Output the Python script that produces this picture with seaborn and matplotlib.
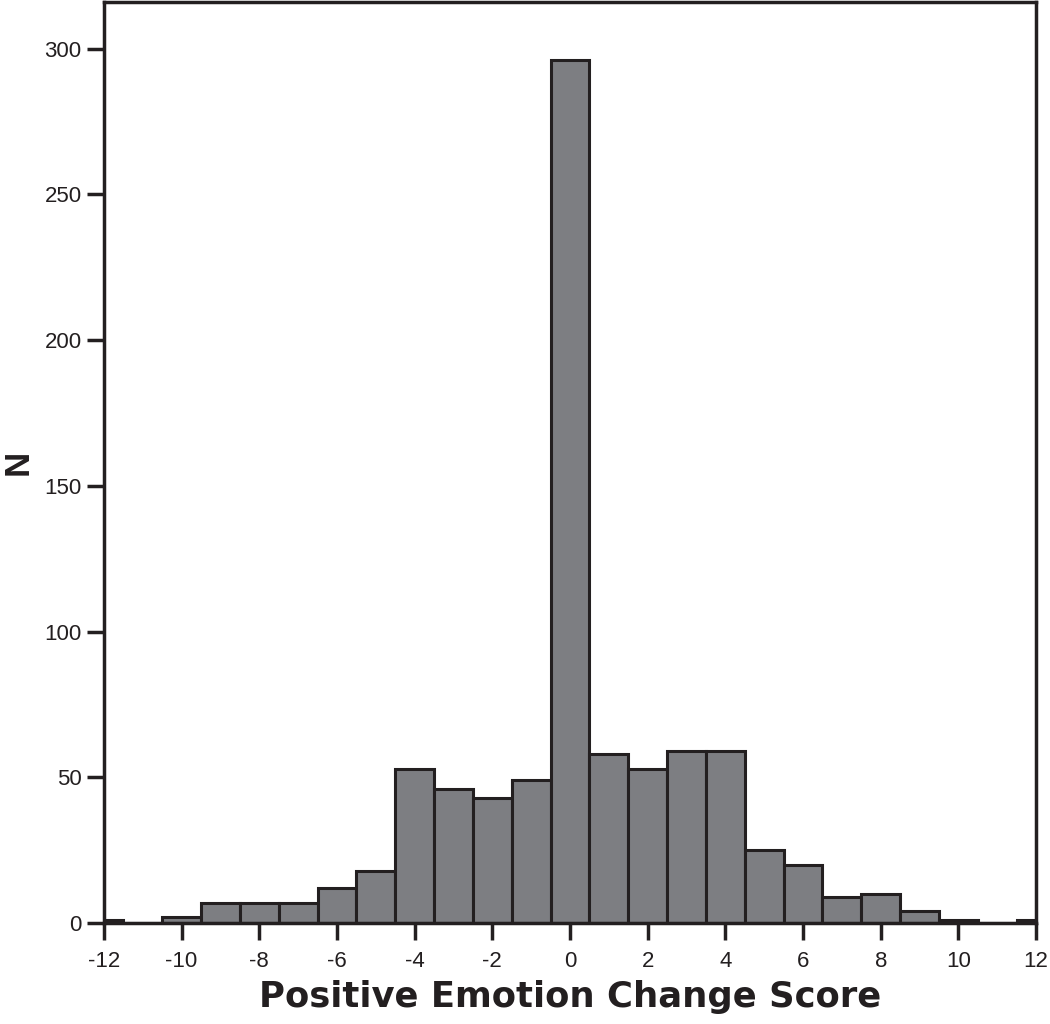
import numpy as np
import pandas as pd
import matplotlib
matplotlib.use("Agg")
import matplotlib.pyplot as plt
import seaborn as sns

# Histogram counts (bin centres -12..12, width 1)
scores = list(range(-12, 13))
counts = [1, 0, 2, 7, 7, 7, 12, 18, 53, 46, 43, 49, 296,
          58, 53, 59, 59, 25, 20, 9, 10, 4, 1, 0, 1]
x_ticks = list(range(-12, 13, 2))
y_ticks = [0, 50, 100, 150, 200, 250, 300]

df = pd.DataFrame({"score": scores, "n": counts})

sns.set_style("white")
plt.rcParams["font.family"] = ["Liberation Sans", "DejaVu Sans"]

fig = plt.figure(figsize=(10.5, 10.24), dpi=100)
ax = fig.add_axes([0.099, 0.0986, 0.8877, 0.8995])

sns.histplot(data=df, x="score", weights="n", discrete=True, ax=ax,
             color="#7d7e82", alpha=1, edgecolor="#231f20", linewidth=2.2)

ax.set_xlim(-12, 12)
ax.set_ylim(0, 316)
ax.set_xticks(x_ticks)
ax.set_xticklabels([str(t) for t in x_ticks])
ax.set_yticks(y_ticks)

for side in ["left", "right", "top", "bottom"]:
    ax.spines[side].set_visible(True)
    ax.spines[side].set_color("#231f20")
    ax.spines[side].set_linewidth(2.5)

ax.tick_params(axis="both", bottom=True, left=True, direction="out",
               length=12, width=2.5, color="#231f20", labelsize=16,
               labelcolor="#231f20")
ax.tick_params(axis="x", pad=8)
ax.tick_params(axis="y", pad=4)

# the original label font is wider than Arial, use DejaVu bold for its extent
ax.set_xlabel("Positive Emotion Change Score", fontsize=25.5, fontweight="bold",
              family=["DejaVu Sans"], color="#231f20", labelpad=6)
ax.set_ylabel("N", fontsize=25, fontweight="bold", color="#231f20", labelpad=7)

fig.savefig("out.png", dpi=100)
